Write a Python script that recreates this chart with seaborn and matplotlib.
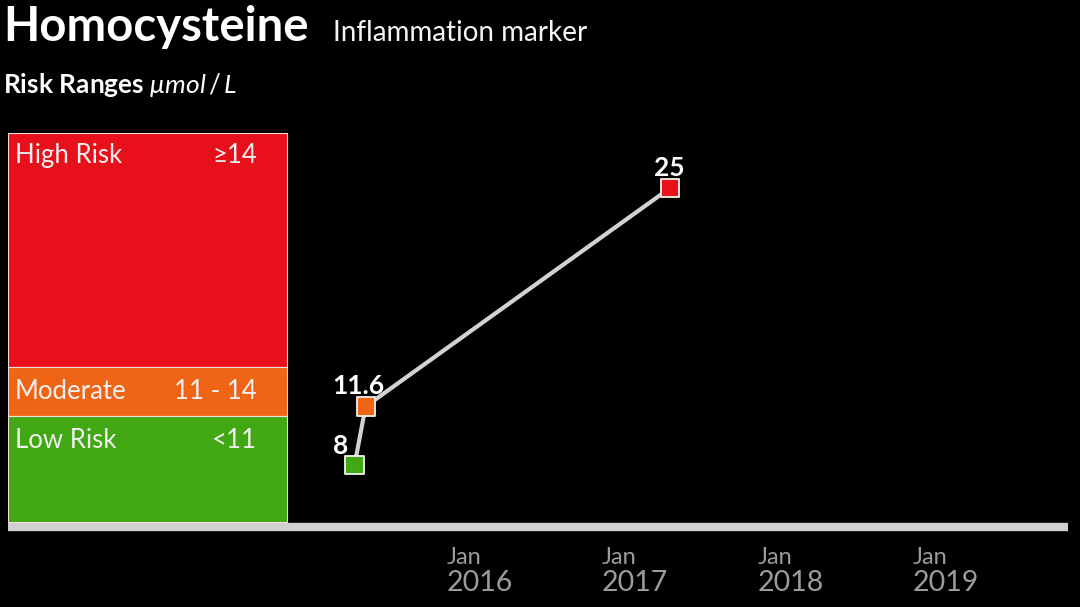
import matplotlib
matplotlib.use("Agg")
import matplotlib.pyplot as plt
import seaborn as sns
import pandas as pd

# measurements
dates = ["2015-05-30", "2015-06-25", "2017-06-09"]
values = [8, 11.6, 25]
levels = ["low", "moderate", "high"]

# risk bands
band_names = ["High Risk", "Moderate", "Low Risk"]
band_ranges = ["\u226514", "11 - 14", "<11"]
band_limits = [(14, 28.4), (11, 14), (4.49, 11)]
band_colors = ["#e8101a", "#f06416", "#41a814"]

tick_years = [2016, 2017, 2018, 2019]

df = pd.DataFrame({"date": pd.to_datetime(dates), "value": values, "level": levels})
palette = {"high": "#e8101a", "moderate": "#f06416", "low": "#41a814"}

sns.set_theme(style="dark")
plt.rcParams["font.family"] = ["Lato", "DejaVu Sans"]
plt.rcParams["mathtext.fontset"] = "custom"
plt.rcParams["mathtext.it"] = "Lato:italic"
plt.rcParams["mathtext.rm"] = "Lato"

fig = plt.figure(figsize=(10.8, 6.07), dpi=100, facecolor="black")
ax = fig.add_axes([8 / 1080, 0.1318, 1060 / 1080, 0.6491])
ax.set_facecolor("black")

sns.lineplot(data=df, x="date", y="value", color="#d2d2d2", linewidth=3, ax=ax, zorder=3)
sns.scatterplot(data=df, x="date", y="value", hue="level", palette=palette, marker="s",
                s=170, edgecolor="#f2f2f2", linewidth=1.3, legend=False, ax=ax, zorder=4)

ax.set_xlim(pd.Timestamp("2013-03-06"), pd.Timestamp("2020-01-02"))
ax.set_ylim(4.2, 28.4)

# risk range boxes on the left
box_right = (287 - 8) / 1060
for name, rng, (lo, hi), col in zip(band_names, band_ranges, band_limits, band_colors):
    ax.axhspan(lo, hi, xmin=0, xmax=box_right, facecolor=col, edgecolor="#f3dcdc",
               linewidth=0.8, zorder=1)
label_y = [27.0, 12.5, 9.5]
for name, rng, yy in zip(band_names, band_ranges, label_y):
    ax.text(0.0066, yy, name, transform=ax.get_yaxis_transform(), color="#f0f0f0",
            fontsize=18.5, va="center", ha="left", zorder=2)
    ax.text(0.235, yy, rng, transform=ax.get_yaxis_transform(), color="#f0f0f0",
            fontsize=18.5, va="center", ha="right", zorder=2)

# value labels
offsets = [(-10, 14), (-5, 15), (0, 15)]
for d, v, off in zip(df["date"], values, offsets):
    ax.annotate(f"{v:g}", (d, v), xytext=off, textcoords="offset points", ha="center",
                va="center", color="white", fontsize=19, fontweight="bold", zorder=5)

# axes styling
for side in ["top", "left", "right"]:
    ax.spines[side].set_visible(False)
ax.spines["bottom"].set_color("#d0d0d0")
ax.spines["bottom"].set_linewidth(6)
ax.spines["bottom"].set_capstyle("butt")
ax.spines["bottom"].set_zorder(0)
ax.set_yticks([])
ax.set_xlabel("")
ax.set_ylabel("")
ticks = [pd.Timestamp(f"{y}-01-01") for y in tick_years]
ax.set_xticks(ticks)
ax.set_xticklabels([""] * len(ticks))
ax.tick_params(axis="x", direction="in", length=4, width=1, color="#ececec", pad=0)
ax.grid(False)
for t, y in zip(ticks, tick_years):
    ax.text(t, -0.078, "Jan", transform=ax.get_xaxis_transform(), color="#9c9c9c",
            fontsize=17, ha="left", va="center")
    ax.text(t, -0.143, str(y), transform=ax.get_xaxis_transform(), color="#9c9c9c",
            fontsize=20.5, ha="left", va="center")

# headings
fig.text(3 / 1080, 1 - 27 / 607, "Homocysteine", color="white", fontsize=34,
         fontweight="bold", ha="left", va="center")
fig.text(333 / 1080, 1 - 33 / 607, "Inflammation marker", color="#f4f4f4", fontsize=20,
         ha="left", va="center")
fig.text(3 / 1080, 1 - 85 / 607, "Risk Ranges $\\mathit{\\mu mol\\,/\\,L}$", color="white",
         fontsize=19, fontweight="bold", ha="left", va="center")

fig.savefig("out.png", dpi=100, facecolor="black")
